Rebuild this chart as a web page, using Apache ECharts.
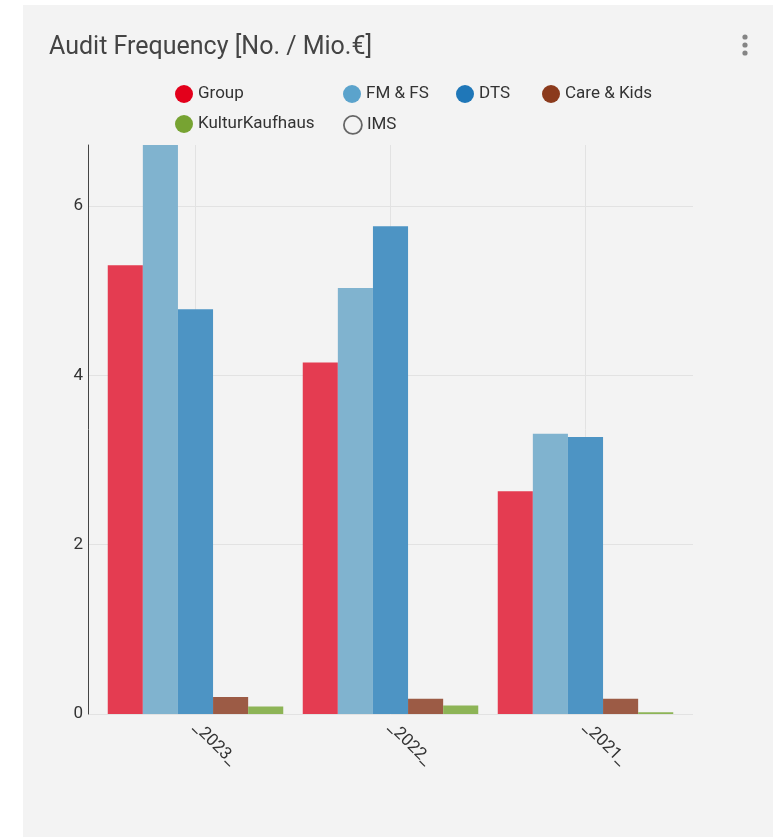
<!DOCTYPE html>
<html>
<head>
<meta charset="utf-8">
<script src="https://cdn.jsdelivr.net/npm/echarts@6/dist/echarts.min.js"></script>
<style>
html,body{margin:0;padding:0;background:#fff;}
#c{width:773px;height:837px;}
</style>
</head>
<body>
<div id="c"></div>
<script>
// ---- data ----
const categories = ['_2023_', '_2022_', '_2021_'];
const seriesNames = ['Group', 'FM & FS', 'DTS', 'Care & Kids', 'KulturKaufhaus', 'IMS'];
const groupValues = [5.30, 4.15, 2.63];
const fmfsValues = [6.72, 5.03, 3.31];
const dtsValues = [4.78, 5.76, 3.27];
const careValues = [0.20, 0.18, 0.18];
const kulturValues = [0.09, 0.10, 0.02];
const imsValues = [null, null, null];
const yTicks = [0, 2, 4, 6];

// ---- styles ----
const barColors = ['#e43c51', '#80b3cf', '#4d94c4', '#9c5b45', '#8db456'];
const legendColors = ['#e3001b', '#5ba3cc', '#1f77b8', '#8b3a1c', '#77a332'];
const FONT = 'Roboto, "Liberation Sans", sans-serif';

const yMax = Math.max(...groupValues, ...fmfsValues, ...dtsValues, ...careValues, ...kulturValues);
const values = [groupValues, fmfsValues, dtsValues, careValues, kulturValues];

const chart = echarts.init(document.getElementById('c'), null, {renderer: 'canvas'});

const legendPos = [
  {left: 175, top: 85},
  {left: 343, top: 85},
  {left: 456, top: 85},
  {left: 542, top: 85},
  {left: 175, top: 115},
  {left: 343, top: 115}
];

const legends = seriesNames.map((name, i) => ({
  left: legendPos[i].left,
  top: legendPos[i].top,
  padding: 0,
  orient: 'horizontal',
  itemWidth: 18,
  itemHeight: 18,
  selectedMode: false,
  textStyle: {color: '#333', fontSize: 17, fontFamily: FONT},
  data: [i < 5 ? {
    name: name,
    icon: 'circle',
    itemStyle: {color: legendColors[i], opacity: 1, borderWidth: 0}
  } : {
    name: name,
    icon: 'circle',
    itemStyle: {color: '#f3f3f3', borderColor: '#666', borderWidth: 1.8, opacity: 1}
  }]
}));

const barSeries = values.map((arr, i) => ({
  name: seriesNames[i],
  type: 'bar',
  xAxisIndex: 1,
  yAxisIndex: 1,
  data: arr,
  barGap: '0%',
  barCategoryGap: '10%',
  itemStyle: {color: barColors[i]},
  z: 2
}));

const option = {
  animation: false,
  backgroundColor: 'transparent',
  textStyle: {fontFamily: FONT},
  title: {
    text: 'Audit Frequency [No. / Mio.€]',
    left: 44,
    top: 30,
    textStyle: {color: '#444', fontSize: 25, fontWeight: 'normal', fontFamily: FONT}
  },
  legend: legends,
  graphic: [
    {type: 'rect', z: -10, shape: {x: 23, y: 5, width: 750, height: 832}, style: {fill: '#f3f3f3'}},
    {type: 'circle', shape: {cx: 745, cy: 37, r: 2.6}, style: {fill: '#858585'}},
    {type: 'circle', shape: {cx: 745, cy: 45, r: 2.6}, style: {fill: '#858585'}},
    {type: 'circle', shape: {cx: 745, cy: 53, r: 2.6}, style: {fill: '#858585'}}
  ],
  grid: [
    {left: 88, right: 80, top: 145, bottom: 123},
    {left: 98, right: 90, top: 145, bottom: 123}
  ],
  xAxis: [
    {type: 'category', gridIndex: 0, data: [''], show: false},
    {
      type: 'category', gridIndex: 1, data: categories,
      axisLine: {show: false}, axisTick: {show: false},
      axisLabel: {rotate: -45, margin: 11, color: '#333', fontSize: 17, fontFamily: FONT},
      splitLine: {show: false}
    }
  ],
  yAxis: [
    {
      type: 'value', gridIndex: 0, min: 0, max: yMax, interval: 2,
      axisLine: {show: true, lineStyle: {color: '#444', width: 1}},
      axisTick: {show: false},
      axisLabel: {
        color: '#333', fontSize: 17, fontFamily: FONT, margin: 5, showMaxLabel: false,
        formatter: v => (yTicks.indexOf(v) >= 0 ? String(v) : '')
      },
      splitLine: {show: true, showMaxLine: false, lineStyle: {color: '#e2e2e2', width: 1}}
    },
    {type: 'value', gridIndex: 1, min: 0, max: yMax, show: false, splitLine: {show: false}}
  ],
  series: barSeries.concat([{
    name: 'IMS',
    type: 'line',
    xAxisIndex: 1,
    yAxisIndex: 1,
    data: imsValues,
    z: 1,
    symbol: 'none',
    lineStyle: {color: '#666'},
    itemStyle: {color: '#666'},
    markLine: {
      silent: true,
      z: 0,
      symbol: ['none', 'none'],
      label: {show: false},
      lineStyle: {color: '#e2e2e2', type: 'solid', width: 1},
      data: categories.map(c => ({xAxis: c}))
    }
  }])
};

chart.setOption(option);
</script>
</body>
</html>
